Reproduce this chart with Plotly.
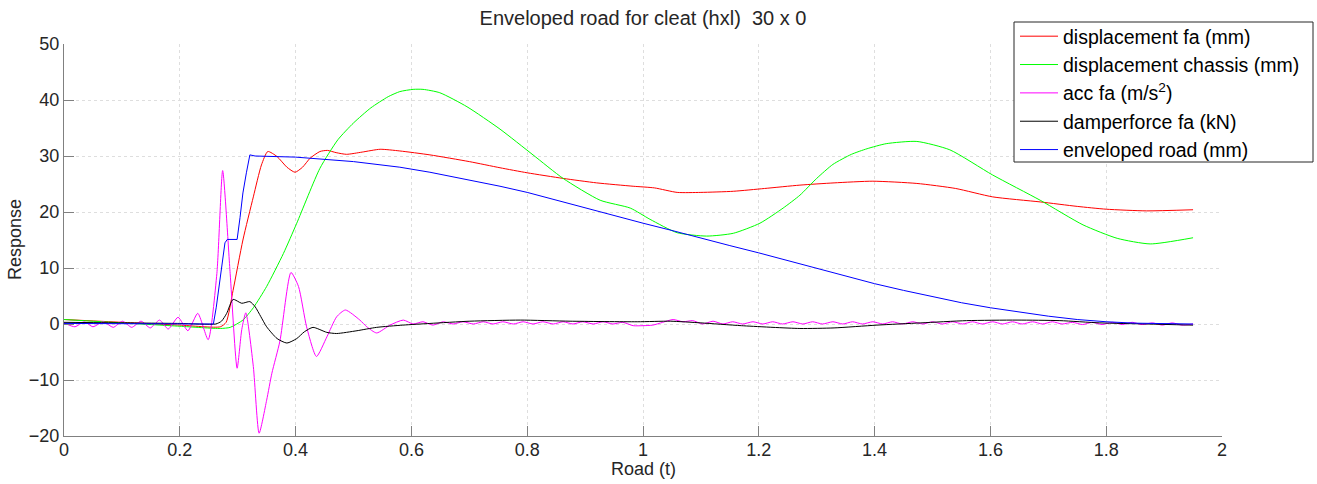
import plotly.graph_objects as go

# ---------------- data ----------------
red_x = [0, 0.1, 0.2, 0.27, 0.28, 0.292, 0.309, 0.327, 0.341, 0.352, 0.368, 0.385, 0.399,
         0.412, 0.425, 0.442, 0.455, 0.47, 0.488, 0.515, 0.546, 0.58, 0.632, 0.70, 0.753,
         0.80, 0.862, 0.92, 0.983, 1.02, 1.059, 1.10, 1.156, 1.21, 1.271, 1.33, 1.397,
         1.473, 1.54, 1.604, 1.686, 1.75, 1.80, 1.87, 1.95]
red_y = [0.8, 0.3, -0.2, -0.5, 0.3, 6.0, 15.0, 22.7, 28.4, 30.8, 29.9, 28.0, 27.1,
         28.0, 29.6, 30.8, 31.0, 30.6, 30.3, 30.7, 31.2, 30.9, 30.2, 29.0, 27.9,
         27.0, 26.0, 25.2, 24.6, 24.3, 23.5, 23.5, 23.7, 24.2, 24.8, 25.2, 25.5,
         25.1, 24.2, 22.7, 21.8, 21.0, 20.5, 20.2, 20.4]

green_x = [0, 0.1, 0.2, 0.27, 0.287, 0.309, 0.327, 0.35, 0.379, 0.402, 0.442, 0.473,
           0.50, 0.53, 0.56, 0.58, 0.603, 0.62, 0.649, 0.696, 0.753, 0.81, 0.862, 0.926,
           0.978, 1.012, 1.059, 1.11, 1.156, 1.202, 1.242, 1.271, 1.30, 1.328, 1.36,
           1.387, 1.42, 1.473, 1.53, 1.604, 1.686, 1.76, 1.819, 1.876, 1.95]
green_y = [0.8, 0.2, -0.4, -0.8, -0.6, 0.7, 2.9, 6.7, 12.6, 18.0, 27.8, 32.9,
           35.9, 38.6, 40.6, 41.5, 41.9, 41.9, 41.3, 38.8, 34.8, 30.2, 26.0, 22.1,
           20.7, 18.7, 16.3, 15.7, 16.2, 18.0, 20.7, 23.0, 26.0, 28.5, 30.3,
           31.3, 32.2, 32.6, 31.1, 26.6, 22.1, 17.7, 15.3, 14.3, 15.4]

acc_x = [0, 0.019, 0.035, 0.050, 0.068, 0.085, 0.101, 0.117, 0.133, 0.149, 0.165, 0.180,
         0.197, 0.214, 0.231, 0.249, 0.264, 0.274, 0.287, 0.299, 0.307, 0.314, 0.327,
         0.337, 0.350, 0.359, 0.373, 0.392, 0.405, 0.419, 0.436, 0.454, 0.471, 0.486,
         0.511, 0.523, 0.540, 0.563, 0.586, 0.603,
         0.620, 0.637, 0.655, 0.672, 0.689, 0.707, 0.724, 0.741, 0.758, 0.776, 0.793,
         0.810, 0.827, 0.845, 0.862, 0.879, 0.896, 0.914, 0.931, 0.948, 0.965, 0.983,
         1.000, 1.017, 1.034, 1.052, 1.069, 1.086, 1.103, 1.121, 1.138, 1.155, 1.172,
         1.190, 1.207, 1.224, 1.241, 1.259, 1.276, 1.293, 1.310, 1.328, 1.345, 1.362,
         1.379, 1.397, 1.414, 1.431, 1.448, 1.466, 1.483, 1.500, 1.517, 1.535, 1.552,
         1.569, 1.586, 1.604, 1.621, 1.638, 1.655, 1.673, 1.690, 1.707, 1.724, 1.742,
         1.759, 1.776, 1.793, 1.811, 1.828, 1.845, 1.862, 1.880, 1.897, 1.914, 1.931,
         1.950]
acc_y = [0.2, -0.5, 0.4, -0.5, 0.4, -0.6, 0.5, -0.6, 0.5, -0.7, 0.7, -0.9,
         1.2, -1.2, 1.9, -2.8, 9.0, 27.4, 9.0, -7.9, -1.0, 2.0, -7.6,
         -19.5, -13.6, -8.8, -3.0, 9.2, 6.7, -0.5, -5.8, -2.3, 1.3, 2.5,
         0.7, -0.5, -1.6, -0.2, 0.7, 0.0,
         0.4, -0.2, 0.4, 0.0, 0.4, 0.0, 0.4, 0.0, 0.4, 0.0, 0.4,
         0.0, 0.4, 0.0, 0.4, 0.0, 0.4, 0.0, 0.4, 0.0, 0.3, -0.3,
         -0.3, -0.2, 0.3, 0.8, 0.4, 0.6, 0.0, 0.5, 0.0, 0.4, 0.0,
         0.4, 0.0, 0.4, 0.0, 0.4, 0.0, 0.4, 0.0, 0.4, 0.0, 0.4,
         0.0, 0.4, 0.0, 0.4, 0.0, 0.4, 0.0, 0.4, 0.0, 0.4, 0.0,
         0.4, 0.0, 0.4, 0.0, 0.4, 0.0, 0.4, 0.0, 0.4, 0.0, 0.3,
         -0.1, 0.3, -0.1, 0.3, -0.1, 0.3, -0.1, 0.2, -0.2, 0.2, -0.2,
         0.0]

damper_x = [0, 0.1, 0.2, 0.262, 0.272, 0.281, 0.292, 0.307, 0.321, 0.33, 0.34, 0.35,
            0.368, 0.385, 0.402, 0.415, 0.43, 0.454, 0.471, 0.506, 0.54, 0.585, 0.632,
            0.701, 0.788, 0.874, 0.99, 1.047, 1.1, 1.17, 1.271, 1.33, 1.404, 1.48,
            1.559, 1.646, 1.72, 1.789, 1.87, 1.95]
damper_y = [0.3, 0.2, 0.1, 0.0, 0.5, 1.9, 4.4, 3.7, 4.0, 3.1, 1.3, -0.5,
            -2.6, -3.4, -2.6, -1.4, -0.6, -1.5, -1.7, -1.2, -0.6, -0.2, 0.1,
            0.5, 0.7, 0.5, 0.4, 0.5, 0.2, -0.3, -0.8, -0.7, -0.2, 0.2,
            0.6, 0.7, 0.6, 0.2, 0.0, -0.2]

road_x = [0, 0.1, 0.2, 0.258, 0.263, 0.269, 0.278, 0.282, 0.299, 0.304, 0.309, 0.315,
          0.321, 0.33, 0.4, 0.5, 0.58, 0.632, 0.70, 0.753, 0.80, 0.85, 0.90, 0.95,
          1.0, 1.05, 1.1, 1.15, 1.2, 1.25, 1.3, 1.35, 1.4, 1.45, 1.5, 1.55, 1.6,
          1.65, 1.7, 1.75, 1.8, 1.85, 1.9, 1.95]
road_y = [0.1, 0.1, 0.0, 0.0, 3.0, 7.9, 14.5, 15.1, 15.1, 19.0, 23.4, 27.0,
          30.2, 30.0, 29.8, 29.0, 28.0, 27.1, 25.7, 24.6, 23.5, 22.1, 20.7, 19.3,
          18.0, 16.7, 15.3, 14.0, 12.7, 11.3, 9.9, 8.5, 7.2, 6.0, 4.9, 3.8, 2.9,
          2.1, 1.4, 0.8, 0.4, 0.15, 0.05, 0.0]

names = ["displacement fa (mm)", "displacement chassis (mm)", "acc fa (m/s<sup>2</sup>)",
         "damperforce fa (kN)", "enveloped road (mm)"]
x_ticks = [0, 0.2, 0.4, 0.6, 0.8, 1, 1.2, 1.4, 1.6, 1.8, 2]
y_ticks = [-20, -10, 0, 10, 20, 30, 40, 50]

# ---------------- figure ----------------
FONT = "Arial, Liberation Sans, sans-serif"
W, H = 1317, 484
L, R, T, B = 64, 95, 44, 48
PW, PH = W - L - R, H - T - B


def px_x(p):  # page pixel -> paper x
    return (p - L) / PW


def px_y(p):  # page pixel -> paper y
    return (H - B - p) / PH


fig = go.Figure()
series = [
    (red_x, red_y, "#ff0000", "spline"),
    (green_x, green_y, "#00ff00", "spline"),
    (acc_x, acc_y, "#ff00ff", "spline"),
    (damper_x, damper_y, "#000000", "spline"),
    (road_x, road_y, "#0000ff", "linear"),
]
for (xs, ys, col, shape), nm in zip(series, names):
    line = dict(color=col, width=1, shape=shape)
    if shape == "spline":
        line["smoothing"] = 0.6
    fig.add_trace(go.Scatter(x=xs, y=ys, mode="lines", name=nm, line=line))

axis_common = dict(showline=True, linecolor="#808080", linewidth=1, mirror=False,
                   ticks="inside", ticklen=10, tickcolor="#808080", tickwidth=1,
                   showgrid=True, gridcolor="#dedede", griddash="dot", gridwidth=1,
                   zeroline=False, tickfont=dict(family=FONT, size=18, color="#262626"),
                   automargin=False)

title_font = dict(family=FONT, size=18, color="#262626")

fig.update_layout(
    width=W, height=H,
    margin=dict(l=L, r=R, t=T, b=B, autoexpand=False),
    paper_bgcolor="white", plot_bgcolor="white",
    title=dict(text="Enveloped road for cleat (hxl)\u00a0 30 x 0", x=0.5, xref="paper",
               xanchor="center", y=1 - 18 / H, yanchor="middle",
               font=dict(family=FONT, size=20, color="#262626")),
    xaxis=dict(range=[0, 2], tickvals=x_ticks, ticktext=[f"{v:g}" for v in x_ticks],
               ticklabelstandoff=-3, **axis_common),
    yaxis=dict(range=[-20, 50], tickvals=y_ticks, **axis_common),
    annotations=[
        dict(text="Road (t)", xref="paper", yref="paper", x=0.5, y=px_y(469),
             xanchor="center", yanchor="middle", showarrow=False, font=title_font),
        dict(text="Response", xref="paper", yref="paper", x=px_x(15), y=0.5,
             xanchor="center", yanchor="middle", textangle=-90, showarrow=False,
             font=title_font),
    ],
    shapes=[
        dict(type="rect", xref="paper", yref="paper", layer="above",
             x0=px_x(1014), x1=px_x(1313), y0=px_y(162), y1=px_y(22),
             line=dict(color="#262626", width=1), fillcolor="white"),
    ],
    legend=dict(x=px_x(1014), y=px_y(16), xanchor="left", yanchor="top",
                bgcolor="rgba(0,0,0,0)", bordercolor="rgba(0,0,0,0)", borderwidth=1,
                font=dict(family=FONT, size=19.5, color="#000000"),
                itemwidth=38, tracegroupgap=0),
    showlegend=True,
)

fig.write_html("out.html", config={"displayModeBar": False},
               post_script="document.body.style.margin='0';")
